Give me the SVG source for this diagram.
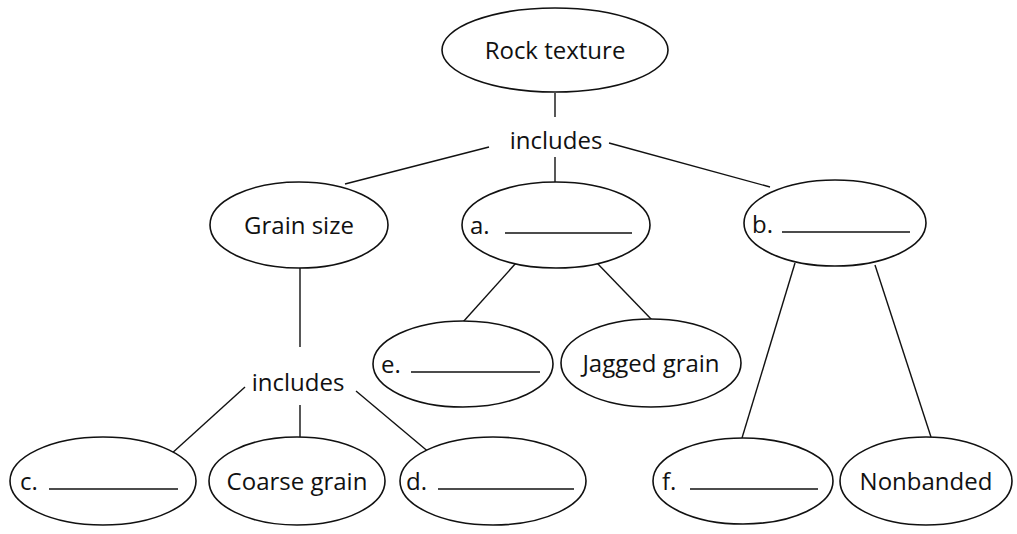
<svg xmlns="http://www.w3.org/2000/svg" width="1017" height="534" viewBox="0 0 1017 534">
  <style>
    .node ellipse { fill: #ffffff; stroke: #111111; stroke-width: 1.6; }
    .node text, .label { font-family: "Open Sans", "Noto Sans", "Liberation Sans", sans-serif; font-size: 24px; fill: #111111; }
    .blank { stroke: #111111; stroke-width: 1.5; }
    #connectors line { stroke: #111111; stroke-width: 1.4; }
  </style>
  <rect width="1017" height="534" fill="#ffffff"/>

  <g id="connectors">
    <line x1="555" y1="93" x2="555" y2="117"/>
    <line x1="555" y1="157" x2="555" y2="182"/>
    <line x1="489" y1="147" x2="345" y2="184"/>
    <line x1="609" y1="143" x2="770" y2="187"/>
    <line x1="300" y1="268" x2="300" y2="347"/>
    <line x1="300" y1="405" x2="300" y2="437"/>
    <line x1="245" y1="387" x2="170" y2="455"/>
    <line x1="356" y1="391" x2="437" y2="459"/>
    <line x1="516" y1="263" x2="463" y2="322"/>
    <line x1="597" y1="263" x2="652" y2="320"/>
    <line x1="795" y1="263" x2="742" y2="438"/>
    <line x1="875" y1="265" x2="931" y2="437"/>
  </g>

  <text class="label" x="556" y="149" text-anchor="middle">includes</text>
  <text class="label" x="298" y="391" text-anchor="middle">includes</text>

  <g id="rock-texture" class="node">
    <ellipse cx="555" cy="50" rx="113" ry="42"/>
    <text x="555" y="59" text-anchor="middle">Rock texture</text>
  </g>
  <g id="grain-size" class="node">
    <ellipse cx="299" cy="225" rx="89" ry="43"/>
    <text x="299" y="234" text-anchor="middle">Grain size</text>
  </g>
  <g id="a" class="node">
    <ellipse cx="556" cy="225" rx="94" ry="43"/>
    <text x="470" y="234">a.</text>
    <line class="blank" x1="505" y1="233" x2="632" y2="233"/>
  </g>
  <g id="b" class="node">
    <ellipse cx="835" cy="223" rx="91" ry="43"/>
    <text x="752" y="233">b.</text>
    <line class="blank" x1="782" y1="232" x2="910" y2="232"/>
  </g>
  <g id="e" class="node">
    <ellipse cx="463" cy="364" rx="90" ry="43"/>
    <text x="381" y="373">e.</text>
    <line class="blank" x1="411" y1="372" x2="540" y2="372"/>
  </g>
  <g id="jagged-grain" class="node">
    <ellipse cx="651" cy="363" rx="90" ry="44"/>
    <text x="651" y="372" text-anchor="middle">Jagged grain</text>
  </g>
  <g id="c" class="node">
    <ellipse cx="103" cy="481" rx="93" ry="44"/>
    <text x="20" y="490">c.</text>
    <line class="blank" x1="49" y1="489" x2="178" y2="489"/>
  </g>
  <g id="coarse-grain" class="node">
    <ellipse cx="297" cy="481" rx="88" ry="44"/>
    <text x="297" y="490" text-anchor="middle">Coarse grain</text>
  </g>
  <g id="d" class="node">
    <ellipse cx="493" cy="481" rx="93" ry="44"/>
    <text x="406" y="490">d.</text>
    <line class="blank" x1="438" y1="489" x2="574" y2="489"/>
  </g>
  <g id="f" class="node">
    <ellipse cx="743" cy="481" rx="90" ry="43"/>
    <text x="662" y="490">f.</text>
    <line class="blank" x1="690" y1="489" x2="818" y2="489"/>
  </g>
  <g id="nonbanded" class="node">
    <ellipse cx="926" cy="481" rx="86" ry="44"/>
    <text x="926" y="490" text-anchor="middle">Nonbanded</text>
  </g>
</svg>
